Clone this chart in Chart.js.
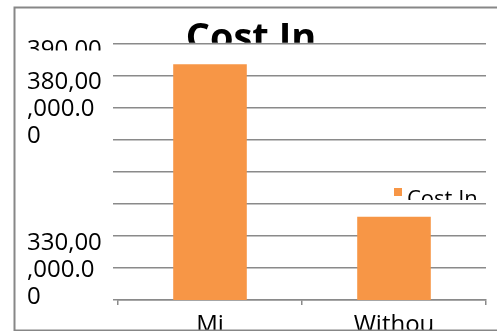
<!DOCTYPE html>
<html>
<head>
<meta charset="utf-8">
<title>Cost In</title>
<script src="https://cdn.jsdelivr.net/npm/chart.js@4.4.0/dist/chart.umd.min.js"></script>
<style>
  body { margin: 0; background: #fff; }
  #wrap { width: 497px; height: 331px; }
</style>
</head>
<body>
<div id="wrap"><canvas id="cost-chart" width="497" height="331"></canvas></div>
<script>
// Chart data
const categories = ['Mi', 'Withou'];
const costValues = [383500000, 336000000];
const seriesName = 'Cost In';
const chartTitle = 'Cost In';

// y axis range and the tick labels that are actually visible
const yMin = 310000000;
const yMax = 390000000;
const yStep = 10000000;
const tickLabels = {
  390000000: ['390,00', '', ''],
  380000000: ['380,00', ',000.0', '0'],
  330000000: ['330,00', ',000.0', '0']
};

const gridGray = '#8a8a8a';
const barOrange = '#F79646';
const fontName = "'Open Sans', sans-serif";

// Outer frame, clipped title, clipped legend
const decorPlugin = {
  id: 'decor',
  afterDraw: function(chart) {
    const ctx = chart.ctx;
    const area = chart.chartArea;

    // hide the lower part of the top tick label (it is cut off in the original)
    ctx.save();
    ctx.fillStyle = '#fff';
    ctx.fillRect(16, 50.5, 94, 16);
    ctx.restore();

    // title, cut at the top gridline
    ctx.save();
    ctx.beginPath();
    ctx.rect(0, 0, chart.width, area.top - 0.8);
    ctx.clip();
    ctx.fillStyle = '#000';
    ctx.font = 'bold 38px ' + fontName;
    ctx.textAlign = 'center';
    ctx.textBaseline = 'alphabetic';
    ctx.fillText(chartTitle, 251, 50);
    ctx.restore();

    // legend inside the plot
    const ds = chart.data.datasets[0];
    ctx.save();
    ctx.fillStyle = ds.backgroundColor;
    ctx.fillRect(394, 188, 8, 8);
    ctx.beginPath();
    ctx.rect(400, 180, 97, 20);
    ctx.clip();
    ctx.fillStyle = '#000';
    ctx.font = '22px ' + fontName;
    ctx.textAlign = 'left';
    ctx.textBaseline = 'alphabetic';
    ctx.fillText(ds.label, 407, 206);
    ctx.restore();

    // outer frame (right side runs off the canvas)
    ctx.save();
    ctx.strokeStyle = '#878787';
    ctx.lineWidth = 2;
    ctx.beginPath();
    ctx.moveTo(chart.width + 5, 7.5);
    ctx.lineTo(14.5, 7.5);
    ctx.lineTo(14.5, 330.5);
    ctx.lineTo(chart.width + 5, 330.5);
    ctx.stroke();
    ctx.restore();
  }
};

var ctx = document.getElementById('cost-chart').getContext('2d');

var costChart = new Chart(ctx, {
  type: 'bar',
  data: {
    labels: categories,
    datasets: [{
      label: seriesName,
      data: costValues,
      backgroundColor: barOrange,
      borderWidth: 0,
      barPercentage: 0.4,
      categoryPercentage: 1
    }]
  },
  options: {
    responsive: false,
    animation: false,
    devicePixelRatio: 1,
    layout: {
      padding: { left: 27, top: 42, right: 11, bottom: 0 }
    },
    plugins: {
      legend: { display: false },
      title: { display: false },
      tooltip: { enabled: false }
    },
    scales: {
      x: {
        grid: {
          display: true,
          drawOnChartArea: false,
          drawTicks: true,
          tickLength: 5,
          color: gridGray,
          lineWidth: 1.5
        },
        border: { display: true, color: gridGray, width: 1.5 },
        ticks: {
          color: '#000',
          font: { family: fontName, size: 24 },
          padding: 6,
          maxRotation: 0,
          autoSkip: false
        },
        afterFit: function(scale) { scale.height = 31; }
      },
      y: {
        min: yMin,
        max: yMax,
        grid: {
          color: gridGray,
          lineWidth: 1.5,
          drawTicks: true,
          tickLength: 5
        },
        border: { display: false },
        ticks: {
          stepSize: yStep,
          autoSkip: false,
          crossAlign: 'far',
          labelOffset: 34,
          color: '#000',
          font: { family: fontName, size: 24, lineHeight: 1.125 },
          callback: function(value) {
            return tickLabels[value] || '';
          }
        },
        afterFit: function(scale) { scale.width = 91; }
      }
    }
  },
  plugins: [decorPlugin]
});
</script>
</body>
</html>
